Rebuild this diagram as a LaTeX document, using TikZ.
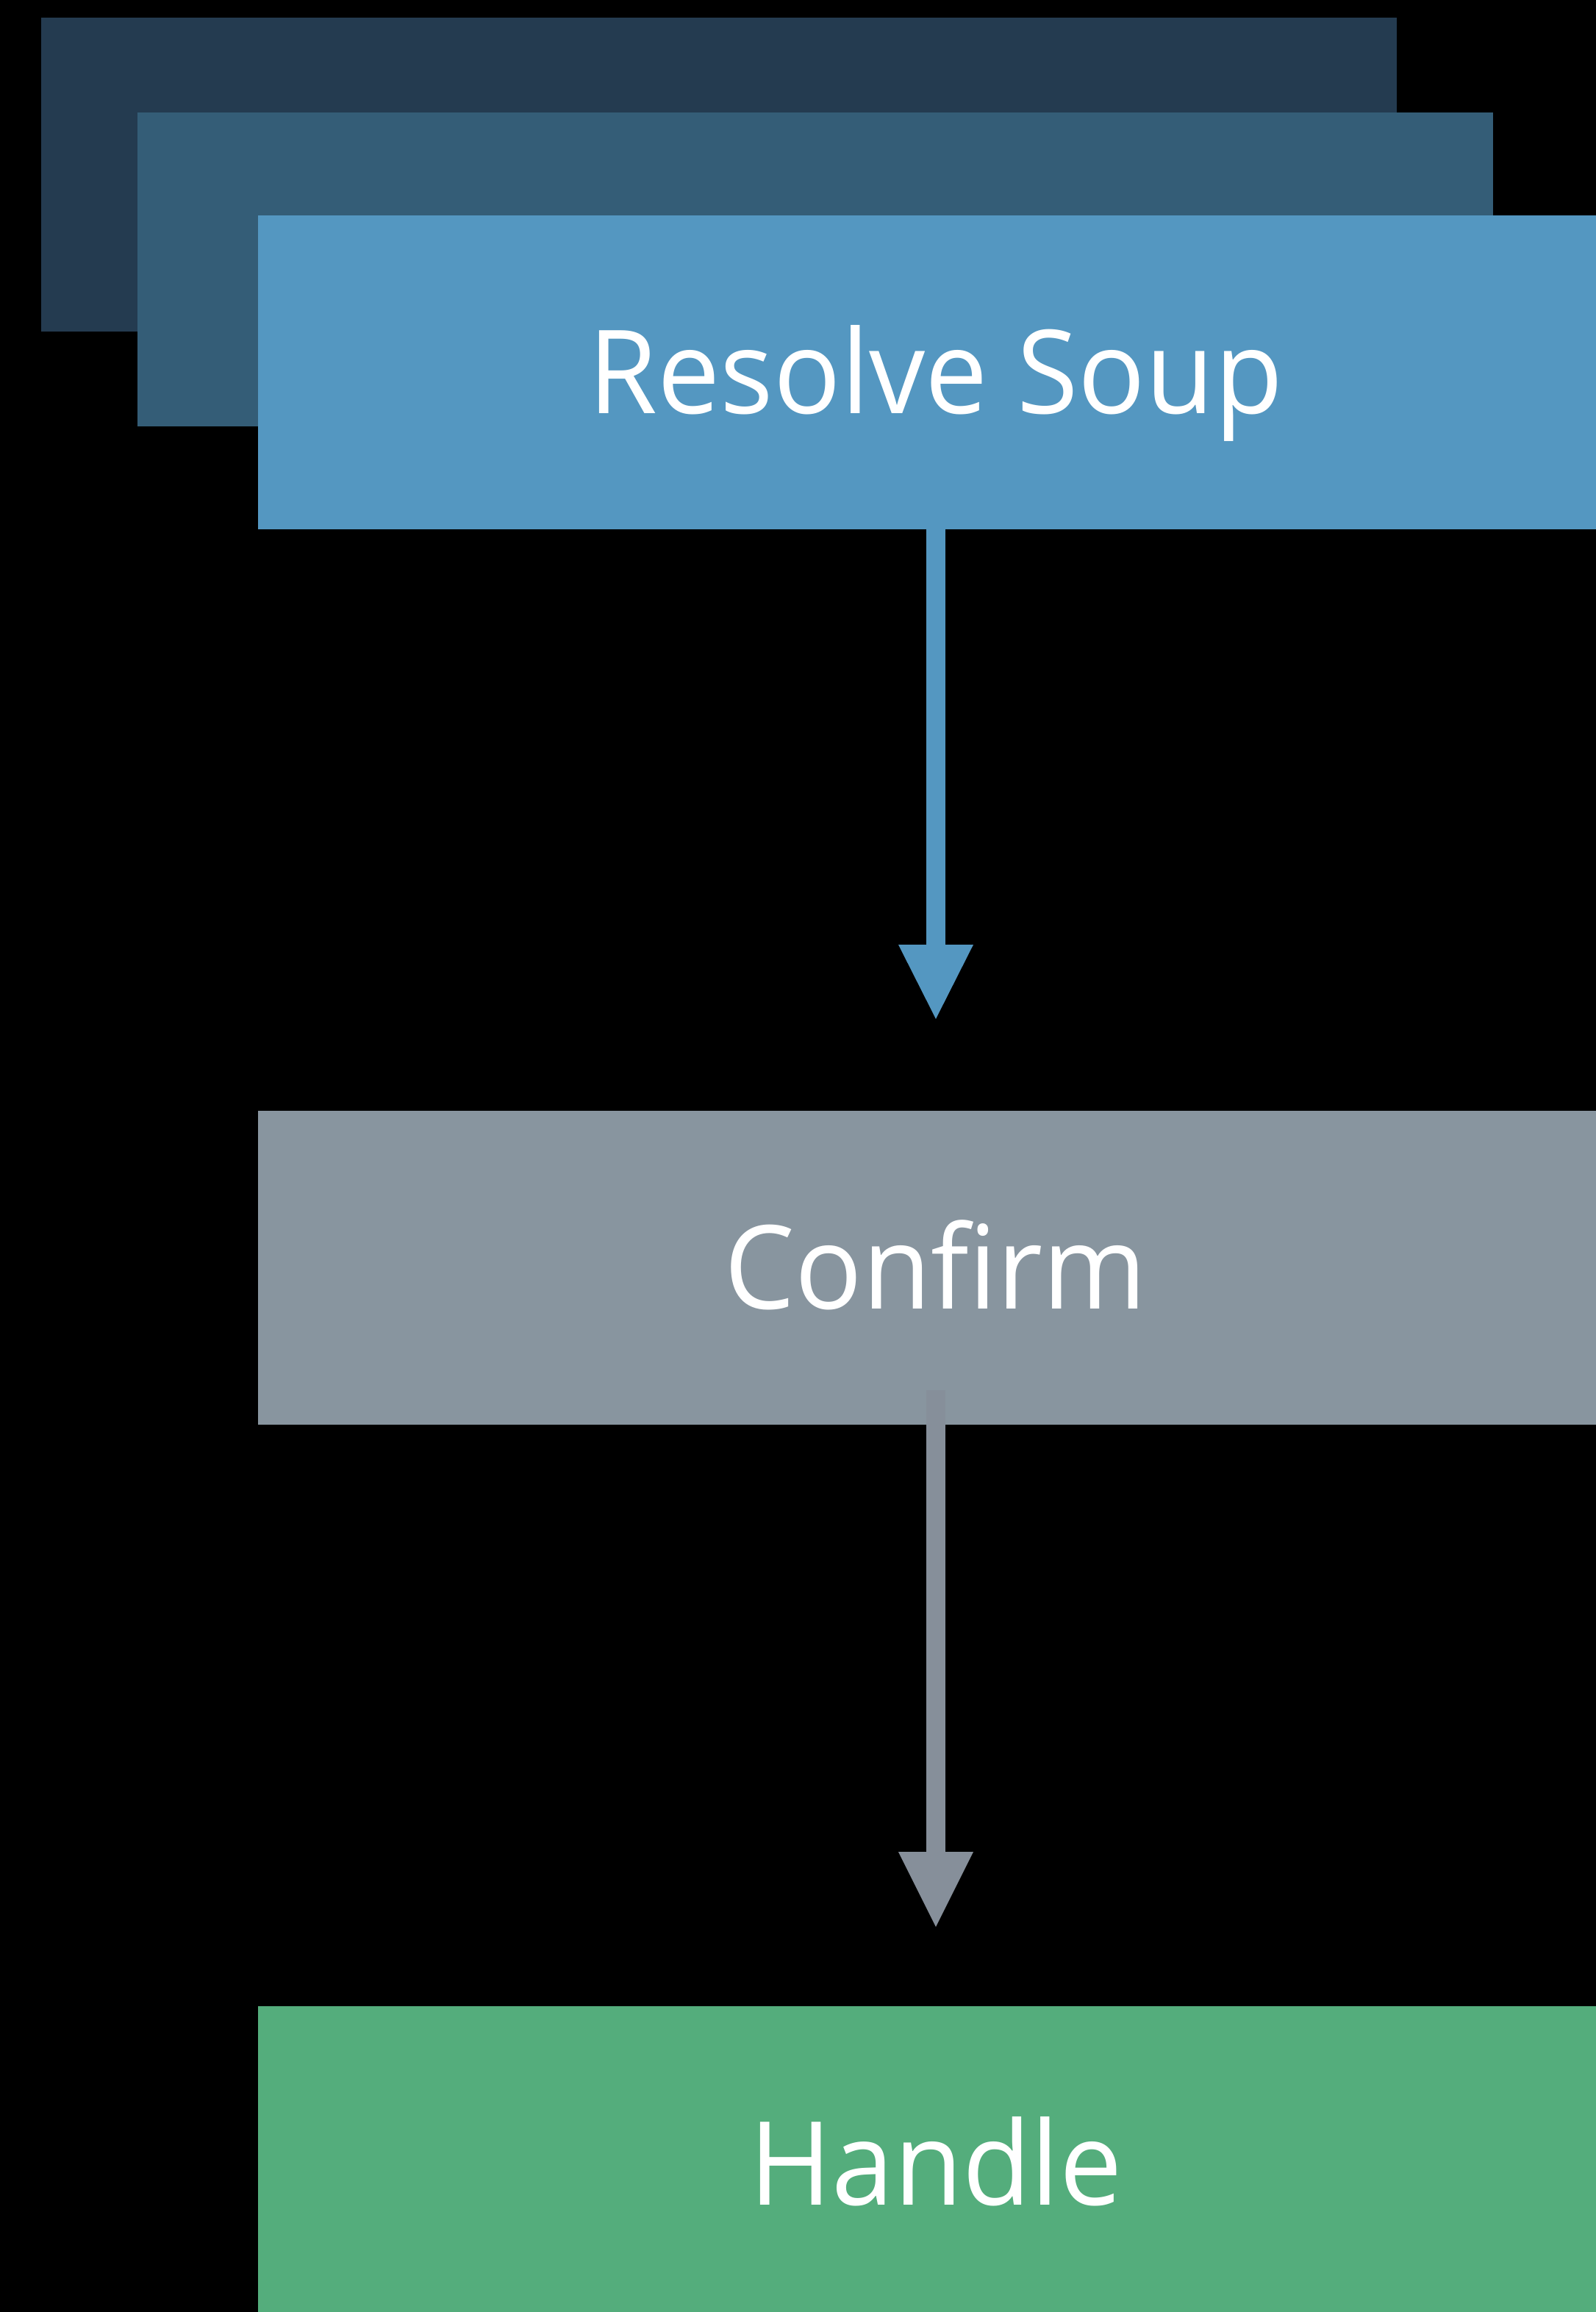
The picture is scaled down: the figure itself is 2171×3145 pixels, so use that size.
\documentclass[tikz,border=0pt]{standalone}
\usepackage{fontspec}
\setmainfont{Open Sans}[FakeStretch=0.962]
\definecolor{bgblack}{HTML}{000000}
\definecolor{backA}{HTML}{243B50}
\definecolor{backB}{HTML}{345D77}
\definecolor{resolveblue}{HTML}{5497C1}
\definecolor{confirmgrey}{HTML}{88959F}
\definecolor{arrowgrey}{HTML}{868F9A}
\definecolor{handlegreen}{HTML}{54AD7C}
\begin{document}
\begin{tikzpicture}[x=0.5pt,y=-0.5pt,
  boxbase/.style={rectangle, inner sep=0pt, outer sep=0pt, minimum width=922pt, minimum height=213.5pt, draw=none},
  stepbox/.style={boxbase, text=white, text height=56.5pt, text depth=0pt,
     font=\fontsize{79}{90}\selectfont},
  shaft/.style={line width=13.35pt, line cap=butt}]
  \fill[bgblack] (0,0) rectangle (2171,3145);
  \useasboundingbox (0,0) rectangle (2171,3145);
  \clip (0,0) rectangle (2171,3145);
  % stacked back cards
  \node[boxbase, fill=backA] (b1) at (978,237.5) {};
  \node[boxbase, fill=backB] (b2) at (1109,366) {};
  % main boxes
  \node[stepbox, fill=resolveblue] (rs) at (1273,506) {Resolve Soup};
  \node[stepbox, fill=confirmgrey] (cf) at (1273,1724) {Confirm};
  \node[stepbox, fill=handlegreen] (hd) at (1273,2942.5) {Handle};
  % arrow 1
  \coordinate (a1tip) at (1273,1386);
  \coordinate (a1base) at (1273,1287);
  \draw[shaft, resolveblue] (rs.south) -- (a1base);
  \fill[resolveblue] (a1tip) -- ++(51,-101) -- ++(-102,0) -- cycle;
  % arrow 2
  \coordinate (a2start) at ([yshift=23.5pt]cf.south);
  \coordinate (a2tip) at (1273,2621);
  \coordinate (a2base) at (1273,2521);
  \draw[shaft, arrowgrey] (a2start) -- (a2base);
  \fill[arrowgrey] (a2tip) -- ++(51,-102) -- ++(-102,0) -- cycle;
\end{tikzpicture}
\end{document}
